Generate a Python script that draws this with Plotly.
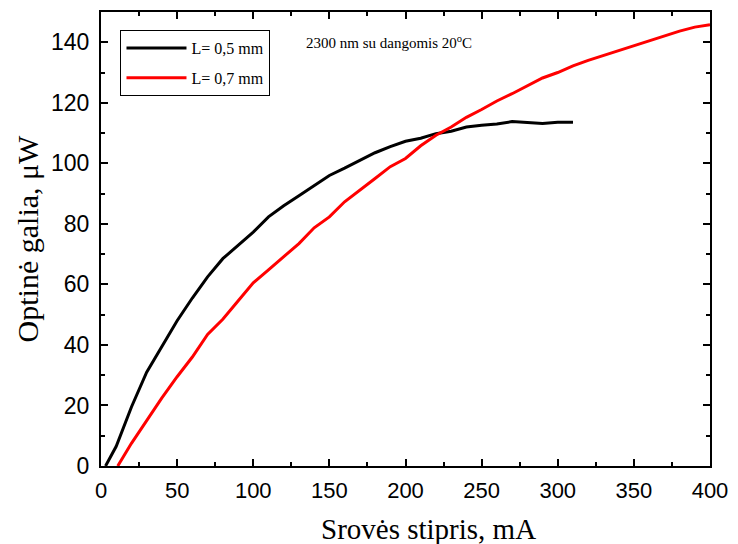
import plotly.graph_objects as go

# L = 0,5 mm diode
current_05 = [3, 10, 20, 30, 40, 50, 60, 70, 80, 90, 100, 110, 120, 130, 140, 150,
              160, 170, 180, 190, 200, 210, 220, 230, 240, 250, 260, 270, 280, 290, 300, 310]
power_05 = [0, 6.5, 19.5, 31, 39.5, 48, 55.5, 62.5, 68.5, 73, 77.3, 82.3, 86, 89.3, 92.8, 96,
            98.4, 101, 103.5, 105.5, 107.3, 108.3, 109.8, 110.6, 112, 112.6, 113, 113.8, 113.6,
            113.2, 113.6, 113.6]

# L = 0,7 mm diode
current_07 = [11, 20, 30, 40, 50, 60, 70, 80, 90, 100, 110, 120, 130, 140, 150, 160, 170,
              180, 190, 200, 210, 220, 230, 240, 250, 260, 270, 280, 290, 300, 310, 320, 330,
              340, 350, 360, 370, 380, 390, 400]
power_07 = [0, 7.5, 15, 22.5, 29.5, 36, 43.5, 48.5, 54.5, 60.5, 64.8, 69, 73.5, 78.7, 82.3,
            87.3, 91, 95, 98.9, 101.6, 105.8, 109.3, 112, 115.2, 117.8, 120.6, 123, 125.5,
            128.2, 130, 132.2, 134, 135.6, 137.3, 139, 140.5, 142, 143.7, 145, 145.8]

serif = "Liberation Serif, Times New Roman, serif"
sans = "Liberation Sans, Arial, sans-serif"

fig = go.Figure()
fig.add_trace(go.Scatter(x=current_05, y=power_05, mode="lines", name="L= 0,5 mm",
                         legendgroup="a", line=dict(color="black", width=3)))
fig.add_trace(go.Scatter(x=current_07, y=power_07, mode="lines", name="L= 0,7 mm",
                         legendgroup="b", line=dict(color="#ff0000", width=3)))

axis_common = dict(
    showgrid=False, zeroline=False, showline=True, linecolor="black", linewidth=2,
    mirror="ticks", ticks="inside", ticklen=7, tickwidth=2, tickcolor="black",
)

fig.update_xaxes(range=[0, 400], dtick=50,
                 tickfont=dict(family=sans, size=22, color="black"),
                 ticklabelstandoff=4,
                 minor=dict(dtick=25, ticks="inside", ticklen=4, tickwidth=2, tickcolor="black"),
                 **axis_common)
fig.update_yaxes(range=[0, 150], dtick=20,
                 tickfont=dict(family=sans, size=23, color="black"),
                 ticklabelstandoff=5,
                 minor=dict(dtick=10, ticks="inside", ticklen=4, tickwidth=2, tickcolor="black"),
                 title=dict(text="Optinė galia, μW", font=dict(family=serif, size=30, color="black"),
                            standoff=4),
                 **axis_common)

# x-axis title, set slightly right of the plot centre
fig.add_annotation(x=0.538, y=-0.099, xref="paper", yref="paper", xanchor="center", yanchor="top",
                   text="Srovės stipris, mA", showarrow=False,
                   font=dict(family=serif, size=29, color="black"))

fig.add_annotation(x=0.333, y=0.935, xref="paper", yref="paper", xanchor="left", yanchor="middle",
                   text="2300 nm su dangomis 20<sup>o</sup>C", showarrow=False,
                   font=dict(family=serif, size=15, color="black"))

fig.update_layout(
    width=738, height=544,
    margin=dict(l=101, r=20, t=10, b=78),
    plot_bgcolor="white", paper_bgcolor="white",
    showlegend=True,
    legend=dict(x=0.032, y=0.96, xanchor="left", yanchor="top",
                bordercolor="black", borderwidth=1, bgcolor="white",
                font=dict(family=serif, size=16, color="black"),
                itemwidth=60, tracegroupgap=6),
)

fig.write_html("out.html")
